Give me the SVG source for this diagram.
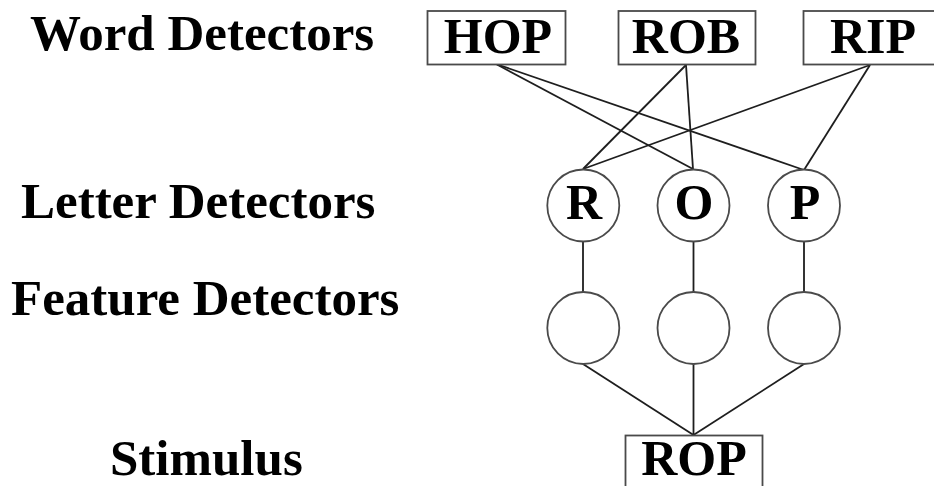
<svg xmlns="http://www.w3.org/2000/svg" width="934" height="486" viewBox="0 0 934 486">
  <style>
    .label { font-family: "Liberation Serif", "Times New Roman", serif; font-weight: bold; font-size: 51px; fill: #000; }
    .node-text { font-family: "Liberation Serif", "Times New Roman", serif; font-weight: bold; font-size: 50px; fill: #000; text-anchor: middle; }
    .box { fill: #fff; stroke: #4a4a4a; stroke-width: 1.8; }
    .unit { fill: #fff; stroke: #4a4a4a; stroke-width: 1.8; }
    .links line { stroke: #1e1e1e; stroke-width: 1.8; }
  </style>
  <rect width="934" height="486" fill="#fff"/>

  <!-- level labels -->
  <g id="labels">
    <text class="label" x="30" y="50">Word Detectors</text>
    <text class="label" x="21" y="218">Letter Detectors</text>
    <text class="label" x="11" y="315">Feature Detectors</text>
    <text class="label" x="110" y="475">Stimulus</text>
  </g>

  <!-- connections between levels -->
  <g id="connectors" class="links">
    <line x1="496" y1="64" x2="693" y2="169"/>
    <line x1="496" y1="64" x2="804" y2="170"/>
    <line x1="686" y1="65" x2="583" y2="169"/>
    <line x1="686" y1="65" x2="693" y2="169"/>
    <line x1="870" y1="65" x2="583" y2="169"/>
    <line x1="870" y1="65" x2="804" y2="170"/>
    <line x1="583" y1="242" x2="583" y2="292"/>
    <line x1="693.5" y1="242" x2="693.5" y2="292"/>
    <line x1="804" y1="242" x2="804" y2="292"/>
    <line x1="583" y1="364" x2="693.5" y2="435"/>
    <line x1="693.5" y1="364" x2="693.5" y2="435"/>
    <line x1="804" y1="364" x2="693.5" y2="435"/>
  </g>

  <!-- word detectors -->
  <g id="word-hop">
    <rect class="box" x="427.5" y="11" width="138" height="53.5"/>
    <text class="node-text" x="498" y="52.5">HOP</text>
  </g>
  <g id="word-rob">
    <rect class="box" x="618.5" y="11" width="137" height="53.5"/>
    <text class="node-text" x="686" y="52.5">ROB</text>
  </g>
  <g id="word-rip">
    <rect class="box" x="803.5" y="11" width="140" height="53.5"/>
    <text class="node-text" x="873" y="52.5">RIP</text>
  </g>

  <!-- letter detectors -->
  <g id="letter-r">
    <circle class="unit" cx="583.3" cy="205.5" r="36"/>
    <text class="node-text" x="584" y="219">R</text>
  </g>
  <g id="letter-o">
    <circle class="unit" cx="693.5" cy="205.5" r="36"/>
    <text class="node-text" x="694" y="219">O</text>
  </g>
  <g id="letter-p">
    <circle class="unit" cx="804" cy="205.5" r="36"/>
    <text class="node-text" x="805" y="219">P</text>
  </g>

  <!-- feature detectors -->
  <g id="feature-1">
    <circle class="unit" cx="583.3" cy="328" r="36"/>
  </g>
  <g id="feature-2">
    <circle class="unit" cx="693.5" cy="328" r="36"/>
  </g>
  <g id="feature-3">
    <circle class="unit" cx="804" cy="328" r="36"/>
  </g>

  <!-- stimulus -->
  <g id="stimulus-rop">
    <rect class="box" x="625.5" y="435.5" width="137" height="60"/>
    <text class="node-text" x="694" y="474.5">ROP</text>
  </g>
</svg>
